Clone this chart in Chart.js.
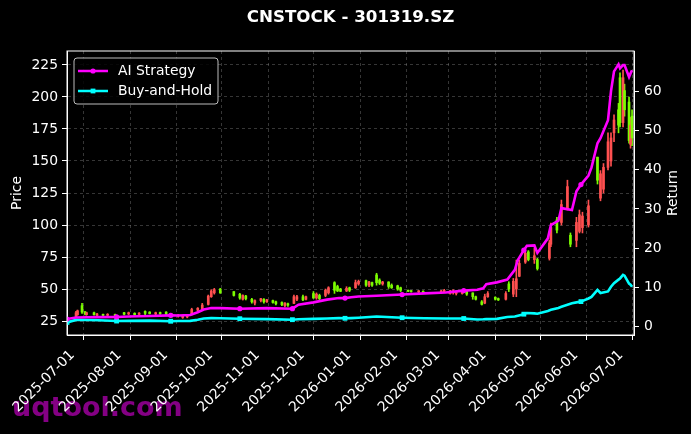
<!DOCTYPE html>
<html>
<head>
<meta charset="utf-8">
<script src="https://cdn.jsdelivr.net/npm/chart.js@4.4.1/dist/chart.umd.min.js"></script>
<style>
  html, body { margin: 0; padding: 0; background: #000; }
  #wrap { width: 691px; height: 434px; }
</style>
</head>
<body>
<div id="wrap"><canvas id="chart_canvas" width="691" height="434"></canvas></div>
<script>
// daily candles (price axis)
const candleDates = [
  '2025-06-26','2025-06-27','2025-06-30','2025-07-02','2025-07-03','2025-07-08','2025-07-10','2025-07-14',
  '2025-07-17','2025-07-22','2025-07-28','2025-07-31','2025-08-04','2025-08-07','2025-08-11','2025-08-14',
  '2025-08-18','2025-08-21','2025-08-25','2025-08-29','2025-09-02','2025-09-05','2025-09-08','2025-09-11',
  '2025-09-15','2025-09-18','2025-09-22','2025-09-24','2025-09-26','2025-09-30','2025-10-09','2025-10-13',
  '2025-10-15','2025-10-17','2025-10-21','2025-10-23','2025-10-27','2025-10-29','2025-10-31','2025-11-04',
  '2025-11-06','2025-11-10','2025-11-12','2025-11-14','2025-11-18','2025-11-20','2025-11-24','2025-11-26',
  '2025-12-01','2025-12-03','2025-12-05','2025-12-09','2025-12-11','2025-12-15','2025-12-17','2025-12-19',
  '2025-12-23','2025-12-25','2025-12-29','2025-12-31','2026-01-05','2026-01-07','2026-01-09','2026-01-12',
  '2026-01-14','2026-01-16','2026-01-20','2026-01-22','2026-01-26','2026-01-28','2026-02-02','2026-02-04',
  '2026-02-09','2026-02-12','2026-02-24','2026-02-26','2026-03-02','2026-03-04','2026-03-06','2026-03-10',
  '2026-03-13','2026-03-17','2026-03-19','2026-03-23','2026-03-25','2026-03-27','2026-04-01','2026-04-03',
  '2026-04-08','2026-04-10','2026-04-13','2026-04-15','2026-04-17','2026-04-21','2026-04-23','2026-04-27',
  '2026-04-29','2026-05-07','2026-05-08','2026-05-12','2026-05-15','2026-05-19','2026-05-21','2026-05-25',
  '2026-05-27','2026-05-29','2026-06-02','2026-06-08','2026-06-10','2026-06-12','2026-06-15','2026-06-17',
  '2026-06-19','2026-06-22','2026-06-23','2026-06-25','2026-06-26','2026-06-29','2026-06-30','2026-07-01'
];
const candleOpen = [
  28.5, 30, 37, 32, 30, 31.5, 29.5, 30, 29.5, 30, 31.5, 30.5, 31, 30.2, 32.5, 32,
  30.5, 31.5, 32, 30, 29, 27.8, 28.2, 30, 33.5, 34.5, 38, 44, 47, 50, 48, 46,
  42, 44.5, 42, 39, 41, 42, 40, 41, 40, 39.5, 37, 38.5, 38.8, 42, 44, 42,
  46.5, 43, 45, 45, 47, 55, 52, 50, 48.5, 51, 51, 54, 56.5, 53, 55, 61,
  57, 54, 55.5, 53, 52.5, 51, 49, 48.5, 47.8, 48, 47, 48, 46.5, 47, 46.5, 46.5,
  48, 47, 44, 40, 39, 44, 43.5, 42.5, 42, 54, 46, 50, 60, 71, 79, 73,
  73, 74, 85, 104, 102, 113, 92, 88, 95, 98, 100, 153, 121, 128, 145, 150,
  172, 190, 215, 180, 205, 196, 163, 185
];
const candleHigh = [
  32.5, 33.6, 38.8, 32.5, 32, 32, 31, 30.5, 30.8, 30.5, 31.9, 32, 31.5, 31.6, 32.9, 32.3,
  32, 32, 32.3, 30.5, 30.2, 29.8, 30, 35, 35.5, 38.8, 45.3, 49.5, 50.5, 50.5, 48, 46.6,
  45.5, 45, 42.7, 41.5, 42.7, 42.5, 42, 41.4, 40.5, 40, 39.5, 39, 45.3, 45, 45.3, 44.5,
  48, 47, 46, 50, 51.8, 55.7, 53, 50.5, 51.8, 51.5, 57, 57, 57, 56, 55.5, 62.3,
  58, 56, 55.7, 54, 53, 51.5, 49.2, 48.8, 48.8, 48.5, 49, 49.8, 49, 49.5, 48.5, 49,
  48.5, 47, 44.5, 41, 46, 48, 44, 43, 48, 55.7, 58.3, 72.6, 72.6, 80.5, 80, 82,
  74, 88, 101.6, 106, 119.5, 135, 93.8, 106, 111.7, 110, 119.5, 153, 142.5, 148, 171.9, 172,
  186, 195, 218.8, 221, 210, 200, 184, 190
];
const candleLow = [
  28, 29.5, 31, 29.7, 29.5, 29.5, 29, 29, 29, 28.8, 29.7, 30, 29.7, 29.8, 29.7, 30.5,
  30, 30.2, 30, 28.2, 28, 27.1, 27.5, 29.7, 33, 33.6, 37.5, 43.5, 46, 46.6, 44.5, 42,
  41.4, 41.5, 39, 37.5, 40, 39, 39.5, 39, 37.5, 37, 36, 36.5, 38.5, 41, 41, 41.5,
  42.7, 42, 41.4, 44, 46, 46.6, 48, 48, 48, 48, 50.5, 53, 52, 51.8, 52, 53,
  53.5, 53, 50.5, 50.5, 49, 48, 48, 47.5, 47.2, 47, 46.6, 47.5, 46, 46, 45.3, 46,
  45, 42, 41.4, 37.5, 38.5, 43.5, 41.4, 41, 41.4, 48, 44, 44, 59.6, 70, 72, 70,
  64.8, 72.6, 83, 93.8, 100, 111.7, 83, 83, 93.8, 93.8, 98.4, 132, 118.9, 125, 143, 146,
  165, 172, 176.6, 176.6, 185, 164, 160, 162
];
const candleClose = [
  31.5, 33, 32, 30.5, 31.5, 30, 30.5, 29.5, 30.3, 29.3, 30.3, 31.5, 30, 31.2, 31, 30.8,
  31.5, 30.8, 30.5, 29, 29.8, 29.5, 29.5, 34, 35, 37.5, 44.5, 48.5, 49.5, 47, 45, 43,
  45, 42.5, 40, 41, 42.5, 40, 41.5, 39.5, 38.5, 37.8, 39, 37.5, 44, 44, 41.5, 44,
  43, 46, 42.5, 49, 51, 49, 48.5, 48.2, 50.5, 49, 55, 56, 53, 55.5, 53, 55,
  54.5, 55.5, 52, 51, 50, 49, 48.3, 48, 48.3, 47.5, 48.5, 49, 48.5, 48.5, 48, 48,
  46, 44, 42, 38, 44, 46.5, 42, 41.5, 46.5, 50, 56, 58, 70, 78, 73, 76,
  66, 86, 98, 96, 116, 130, 85, 102, 108, 107, 115, 135, 140, 145, 165, 168,
  182, 178, 180, 215, 190, 166, 178, 168
];

// strategy curves (return axis)
const lineDates = [
  '2025-06-20','2025-06-26','2025-07-03','2025-07-11','2025-07-23','2025-07-31','2025-08-14','2025-08-28',
  '2025-09-02','2025-09-10','2025-09-15','2025-09-19','2025-09-24','2025-09-30','2025-10-13','2025-10-31',
  '2025-11-17','2025-11-21','2025-12-01','2025-12-10','2025-12-18','2025-12-22','2025-12-26','2025-12-31',
  '2026-01-12','2026-01-29','2026-02-13','2026-02-27','2026-03-11','2026-03-20','2026-03-24','2026-03-26',
  '2026-04-02','2026-04-09','2026-04-14','2026-04-16','2026-04-20','2026-04-22','2026-04-27','2026-04-29',
  '2026-05-06','2026-05-08','2026-05-13','2026-05-15','2026-05-22','2026-05-25','2026-05-28','2026-06-02',
  '2026-06-04','2026-06-08','2026-06-10','2026-06-15','2026-06-17','2026-06-19','2026-06-22','2026-06-23',
  '2026-06-25','2026-06-26','2026-06-29','2026-06-30','2026-07-01'
];
const aiReturn = [
  1.96, 2.37, 2.4, 2.45, 2.5, 2.6, 2.75, 2.9,
  2.85, 3.0, 3.7, 4.4, 4.75, 4.75, 4.6, 4.75,
  4.6, 5.6, 6.2, 6.9, 7.3, 7.3, 7.5, 7.7,
  7.9, 8.2, 8.5, 8.7, 9.2, 9.4, 9.8, 10.85,
  11.3, 12.0, 14.5, 17.0, 19.5, 20.6, 20.7, 18.8,
  22.5, 25.9, 27.0, 30.2, 29.7, 34.5, 36.2, 38.5,
  40.5, 46.7, 48.0, 52.6, 60.0, 65.0, 66.8, 65.8,
  66.6, 66.6, 63.6, 64.5, 65.3
];
const bhReturn = [
  1.1, 1.75, 1.7, 1.65, 1.45, 1.5, 1.55, 1.4,
  1.45, 1.5, 1.8, 2.1, 2.2, 2.15, 2.05, 1.95,
  1.8, 1.9, 2.0, 2.1, 2.2, 2.15, 2.2, 2.3,
  2.6, 2.3, 2.15, 2.1, 2.1, 1.85, 1.9, 1.95,
  2.0, 2.5, 2.6, 2.8, 3.2, 3.5, 3.4, 3.3,
  4.0, 4.3, 4.8, 5.1, 6.0, 6.2, 6.4, 7.2,
  7.6, 9.4, 8.6, 9.0, 10.2, 11.1, 12.0, 12.3,
  13.2, 13.0, 11.0, 10.7, 10.2
];
const markerDates = [
  '2025-06-20','2025-07-23','2025-08-28','2025-10-13','2025-11-17',
  '2025-12-22','2026-01-29','2026-03-11','2026-04-20','2026-05-28'
];

const monthTicks = [
  '2025-07-01','2025-08-01','2025-09-01','2025-10-01','2025-11-01','2025-12-01','2026-01-01',
  '2026-02-01','2026-03-01','2026-04-01','2026-05-01','2026-06-01','2026-07-01'
];
const priceTicks = [25, 50, 75, 100, 125, 150, 175, 200, 225];
const returnTicks = [0, 10, 20, 30, 40, 50, 60];

const UP_COLOR = '#ff5050';
const DOWN_COLOR = '#7cfc00';
const AI_COLOR = '#ff00ff';
const BH_COLOR = '#00ffff';
const GRID_COLOR = 'rgba(150,150,150,0.45)';

const DAY0 = Date.UTC(2025, 6, 1);
function day_of(s) {
  const [y, m, d] = s.split('-').map(Number);
  return (Date.UTC(y, m - 1, d) - DAY0) / 86400000;
}

const candleColors = candleOpen.map((o, i) => candleClose[i] >= o ? UP_COLOR : DOWN_COLOR);
const wickData = candleDates.map((d, i) => ({ x: day_of(d), y: [candleLow[i], candleHigh[i]] }));
const bodyData = candleDates.map((d, i) => ({ x: day_of(d), y: [candleOpen[i], candleClose[i]] }));
const aiData = lineDates.map((d, i) => ({ x: day_of(d), y: aiReturn[i] }));
const bhData = lineDates.map((d, i) => ({ x: day_of(d), y: bhReturn[i] }));
const markerRadius = lineDates.map(d => markerDates.includes(d) ? 2.6 : 0);
const squareRadius = lineDates.map(d => markerDates.includes(d) ? 3.4 : 0);

const FONT = 'DejaVu Sans';
const FONT_SIZE = 13.9;
Chart.defaults.font.family = FONT;
Chart.defaults.font.size = FONT_SIZE;
Chart.defaults.color = '#ffffff';

const decorPlugin = {
  id: 'decor',
  beforeDraw(chart) {
    const ctx = chart.ctx;
    ctx.save();
    ctx.fillStyle = '#000000';
    ctx.fillRect(0, 0, chart.width, chart.height);
    // watermark
    ctx.font = 'bold 27px ' + FONT;
    ctx.fillStyle = 'rgba(139,0,139,0.95)';
    ctx.textBaseline = 'alphabetic';
    ctx.textAlign = 'left';
    ctx.fillText('uqtool.com', 12, 416);
    ctx.restore();
  },
  afterDraw(chart) {
    const ctx = chart.ctx;
    const a = chart.chartArea;
    ctx.save();
    // frame
    ctx.strokeStyle = '#ffffff';
    ctx.lineWidth = 1;
    ctx.strokeRect(a.left, a.top, a.right - a.left, a.bottom - a.top);
    // title
    ctx.fillStyle = '#ffffff';
    ctx.font = 'bold 16.7px ' + FONT;
    ctx.textAlign = 'center';
    ctx.textBaseline = 'middle';
    ctx.fillText('CNSTOCK - 301319.SZ', (a.left + a.right) / 2, 17.5);
    // axis titles
    ctx.font = FONT_SIZE + 'px ' + FONT;
    const midY = (a.top + a.bottom) / 2;
    ctx.save();
    ctx.translate(17.5, midY);
    ctx.rotate(-Math.PI / 2);
    ctx.fillText('Price', 0, 0);
    ctx.restore();
    ctx.save();
    ctx.translate(673.5, midY);
    ctx.rotate(-Math.PI / 2);
    ctx.fillText('Return', 0, 0);
    ctx.restore();
    // legend
    const lx = a.left + 7, ly = a.top + 7, lw = 144, lh = 46;
    ctx.beginPath();
    ctx.roundRect(lx, ly, lw, lh, 3);
    ctx.fillStyle = 'rgba(0,0,0,0.85)';
    ctx.fill();
    ctx.strokeStyle = 'rgba(220,220,220,0.85)';
    ctx.lineWidth = 1;
    ctx.stroke();
    const entries = [
      { label: 'AI Strategy', color: AI_COLOR, square: false, y: ly + 13 },
      { label: 'Buy-and-Hold', color: BH_COLOR, square: true, y: ly + 33 }
    ];
    for (const e of entries) {
      ctx.strokeStyle = e.color;
      ctx.fillStyle = e.color;
      ctx.lineWidth = 2.5;
      ctx.beginPath();
      ctx.moveTo(lx + 4, e.y);
      ctx.lineTo(lx + 34, e.y);
      ctx.stroke();
      ctx.beginPath();
      if (e.square) {
        ctx.rect(lx + 19 - 2.4, e.y - 2.4, 4.8, 4.8);
      } else {
        ctx.arc(lx + 19, e.y, 2.6, 0, Math.PI * 2);
      }
      ctx.fill();
      ctx.fillStyle = '#ffffff';
      ctx.textAlign = 'left';
      ctx.textBaseline = 'middle';
      ctx.fillText(e.label, lx + 44, e.y);
    }
    ctx.restore();
  }
};

new Chart(document.getElementById('chart_canvas'), {
  type: 'bar',
  data: {
    datasets: [
      {
        type: 'line',
        label: 'AI Strategy',
        data: aiData,
        yAxisID: 'y1',
        borderColor: AI_COLOR,
        backgroundColor: AI_COLOR,
        borderWidth: 2.6,
        pointRadius: markerRadius,
        pointStyle: 'circle',
        pointBorderWidth: 0,
        tension: 0,
        order: 0
      },
      {
        type: 'line',
        label: 'Buy-and-Hold',
        data: bhData,
        yAxisID: 'y1',
        borderColor: BH_COLOR,
        backgroundColor: BH_COLOR,
        borderWidth: 2.6,
        pointRadius: squareRadius,
        pointStyle: 'rect',
        pointBorderWidth: 0,
        tension: 0,
        order: 1
      },
      {
        label: 'body',
        data: bodyData,
        yAxisID: 'y',
        backgroundColor: candleColors,
        borderWidth: 0,
        barThickness: 2,
        minBarLength: 1,
        grouped: false,
        order: 2
      },
      {
        label: 'wick',
        data: wickData,
        yAxisID: 'y',
        backgroundColor: candleColors,
        borderWidth: 0,
        barThickness: 1,
        grouped: false,
        order: 3
      }
    ]
  },
  options: {
    responsive: false,
    animation: false,
    events: [],
    layout: { padding: { top: 51, left: 0, right: 0, bottom: 0 } },
    plugins: {
      legend: { display: false },
      title: { display: false },
      tooltip: { enabled: false }
    },
    scales: {
      x: {
        type: 'linear',
        min: -11,
        max: 366.3,
        offset: false,
        afterFit: (scale) => { scale.height = 99; },
        afterBuildTicks: (scale) => {
          scale.ticks = monthTicks.map(t => ({ value: day_of(t) }));
        },
        ticks: {
          autoSkip: false,
          maxRotation: 45,
          minRotation: 45,
          padding: 7,
          labelOffset: -11,
          color: '#ffffff',
          callback: (value) => {
            const hit = monthTicks.find(t => day_of(t) === value);
            return hit || '';
          }
        },
        grid: {
          color: GRID_COLOR,
          lineWidth: 0.8,
          offset: false,
          tickColor: '#ffffff',
          tickLength: 5,
          tickWidth: 1
        },
        border: { color: '#ffffff', width: 1, dash: [3, 3] }
      },
      y: {
        type: 'linear',
        position: 'left',
        min: 14.1,
        max: 235.9,
        afterFit: (scale) => { scale.width = 67; },
        afterBuildTicks: (scale) => {
          scale.ticks = priceTicks.map(v => ({ value: v }));
        },
        ticks: { color: '#ffffff', padding: 4 },
        grid: {
          color: GRID_COLOR,
          lineWidth: 0.8,
          tickColor: '#ffffff',
          tickLength: 5,
          tickWidth: 1
        },
        border: { color: '#ffffff', width: 1, dash: [3, 3] }
      },
      y1: {
        type: 'linear',
        position: 'right',
        min: -2.1,
        max: 70.2,
        afterFit: (scale) => { scale.width = 57; },
        afterBuildTicks: (scale) => {
          scale.ticks = returnTicks.map(v => ({ value: v }));
        },
        ticks: { color: '#ffffff', padding: 5 },
        grid: {
          drawOnChartArea: false,
          tickColor: '#ffffff',
          tickLength: 5,
          tickWidth: 1
        },
        border: { color: '#ffffff', width: 1 }
      }
    }
  },
  plugins: [decorPlugin]
});
</script>
</body>
</html>
